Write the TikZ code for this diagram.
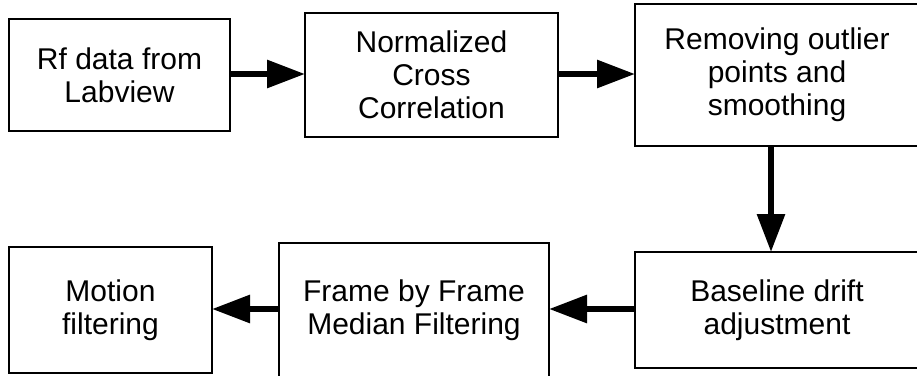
\documentclass[tikz,border=0pt]{standalone}
\usepackage{fontspec}
\setmainfont{Liberation Sans}
\usetikzlibrary{arrows.meta}
\begin{document}
\begin{tikzpicture}[x=1pt,y=-1pt,
  box/.style={draw=black,line width=2.5pt,rectangle,inner sep=0pt,outer sep=0pt,
    align=center,font=\fontsize{30}{33}\selectfont},
  arr/.style={line width=6pt,-{Triangle[length=38pt,width=27pt]}}]
\useasboundingbox (0,0) rectangle (917,375);
\clip (0,0) rectangle (917,375);
\node[box,minimum width=221pt,minimum height=112pt] (b1) at (119.5,75) {Rf data from\\Labview};
\node[box,minimum width=253pt,minimum height=124pt] (b2) at (431.5,75) {Normalized\\Cross\\Correlation};
\node[box,minimum width=284pt,minimum height=142pt] (b3) at (777,75) {Removing outlier\\points and\\smoothing};
\node[box,minimum width=284pt,minimum height=116pt] (b4) at (777,310) {Baseline drift\\adjustment};
\node[box,minimum width=270pt,minimum height=134pt] (b5) at (414,310) {Frame by Frame\\Median Filtering};
\node[box,minimum width=203pt,minimum height=126pt] (b6) at (110.5,310) {Motion\\filtering};
\draw[arr] ([yshift=1pt]b1.east) -- ([yshift=1pt]b2.west);
\draw[arr] ([yshift=1pt]b2.east) -- ([yshift=1pt]b3.west);
\draw[arr] ([xshift=-6pt]b3.south) -- ([xshift=-6pt]b4.north);
\draw[arr] ([yshift=1pt]b4.west) -- ([yshift=1pt]b5.east);
\draw[arr] ([yshift=1pt]b5.west) -- ([yshift=1pt]b6.east);
\end{tikzpicture}
\end{document}
